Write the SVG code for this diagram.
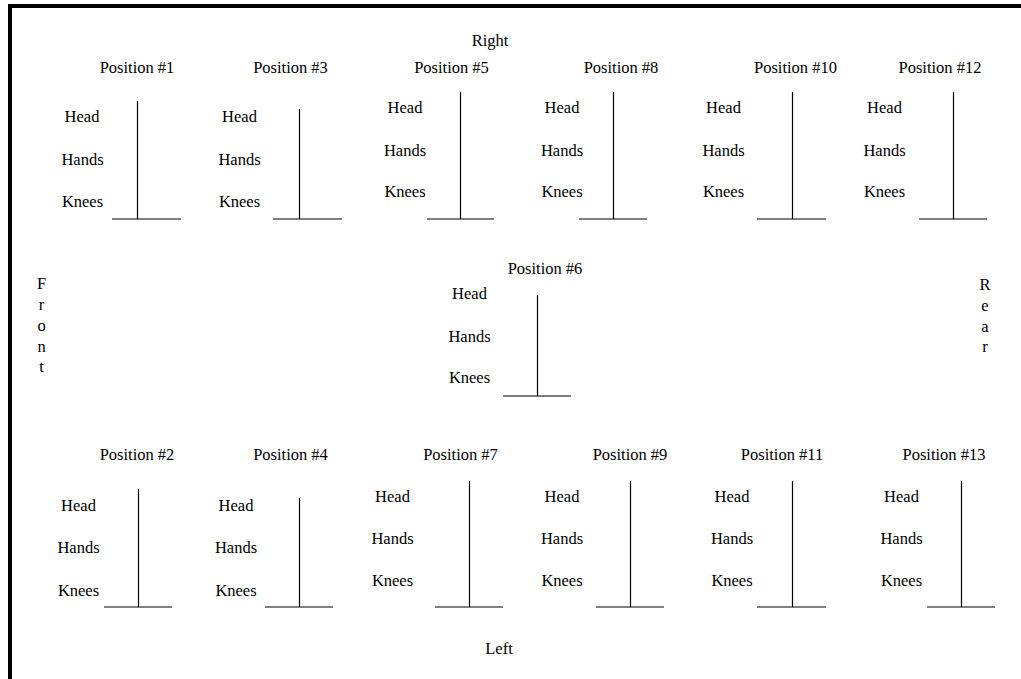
<svg xmlns="http://www.w3.org/2000/svg" width="1021" height="679" viewBox="0 0 1021 679">
<style>
text{font-family:"Liberation Serif","Times New Roman",serif;font-size:16.5px;fill:#000;text-anchor:middle}
.ln line{stroke:#000;stroke-width:1.2}
</style>
<rect x="0" y="0" width="1021" height="679" fill="#fff"/>
<g id="border">
<rect x="8" y="4" width="1013" height="4" fill="#000"/>
<rect x="8" y="4" width="4" height="675" fill="#000"/>
</g>
<g id="sides">
<text x="490" y="46">Right</text>
<text x="499" y="654">Left</text>
<text x="41.5" y="289">F</text><text x="41.5" y="310">r</text><text x="41.5" y="331">o</text><text x="41.5" y="352">n</text><text x="41.5" y="372">t</text>
<text x="985" y="290">R</text><text x="985" y="311">e</text><text x="985" y="332">a</text><text x="985" y="352">r</text>
</g>
<g id="connectors" class="ln">
<line x1="137.5" y1="101" x2="137.5" y2="219"/><line x1="112" y1="219" x2="181" y2="219"/>
<line x1="299.5" y1="109" x2="299.5" y2="219"/><line x1="273" y1="219" x2="342" y2="219"/>
<line x1="460.5" y1="92" x2="460.5" y2="219"/><line x1="427" y1="219" x2="494" y2="219"/>
<line x1="613.5" y1="92" x2="613.5" y2="219"/><line x1="579" y1="219" x2="647" y2="219"/>
<line x1="792.5" y1="92" x2="792.5" y2="219"/><line x1="757" y1="219" x2="826" y2="219"/>
<line x1="953.5" y1="92" x2="953.5" y2="219"/><line x1="919" y1="219" x2="987" y2="219"/>
<line x1="537.5" y1="295" x2="537.5" y2="396"/><line x1="503" y1="396" x2="571" y2="396"/>
<line x1="138.5" y1="489" x2="138.5" y2="607"/><line x1="104" y1="607" x2="172" y2="607"/>
<line x1="299.5" y1="498" x2="299.5" y2="607"/><line x1="265" y1="607" x2="333" y2="607"/>
<line x1="469.5" y1="481" x2="469.5" y2="607"/><line x1="435" y1="607" x2="503" y2="607"/>
<line x1="630.5" y1="481" x2="630.5" y2="607"/><line x1="596" y1="607" x2="664" y2="607"/>
<line x1="792.5" y1="481" x2="792.5" y2="607"/><line x1="757" y1="607" x2="826" y2="607"/>
<line x1="961.5" y1="481" x2="961.5" y2="607"/><line x1="927" y1="607" x2="995" y2="607"/>
</g>
<g id="pos1"><text x="137" y="73">Position #1</text><text x="82" y="122">Head</text><text x="82.5" y="165">Hands</text><text x="82.5" y="207">Knees</text></g>
<g id="pos3"><text x="290.5" y="73">Position #3</text><text x="239.5" y="122">Head</text><text x="239.5" y="165">Hands</text><text x="239.5" y="207">Knees</text></g>
<g id="pos5"><text x="451.5" y="73">Position #5</text><text x="405" y="113">Head</text><text x="405" y="156">Hands</text><text x="405" y="197">Knees</text></g>
<g id="pos8"><text x="621" y="73">Position #8</text><text x="562" y="113">Head</text><text x="562" y="156">Hands</text><text x="562" y="197">Knees</text></g>
<g id="pos10"><text x="795.5" y="73">Position #10</text><text x="723.5" y="113">Head</text><text x="723.5" y="156">Hands</text><text x="723.5" y="197">Knees</text></g>
<g id="pos12"><text x="940" y="73">Position #12</text><text x="884.5" y="113">Head</text><text x="884.5" y="156">Hands</text><text x="884.5" y="197">Knees</text></g>
<g id="pos6"><text x="545" y="274">Position #6</text><text x="469.5" y="299">Head</text><text x="469.5" y="342">Hands</text><text x="469.5" y="383">Knees</text></g>
<g id="pos2"><text x="137" y="460">Position #2</text><text x="78.5" y="511">Head</text><text x="78.5" y="553">Hands</text><text x="78.5" y="596">Knees</text></g>
<g id="pos4"><text x="290.5" y="460">Position #4</text><text x="236" y="511">Head</text><text x="236" y="553">Hands</text><text x="236" y="596">Knees</text></g>
<g id="pos7"><text x="460.5" y="460">Position #7</text><text x="392.5" y="502">Head</text><text x="392.5" y="544">Hands</text><text x="392.5" y="586">Knees</text></g>
<g id="pos9"><text x="630" y="460">Position #9</text><text x="562" y="502">Head</text><text x="562" y="544">Hands</text><text x="562" y="586">Knees</text></g>
<g id="pos11"><text x="782" y="460">Position #11</text><text x="732" y="502">Head</text><text x="732" y="544">Hands</text><text x="732" y="586">Knees</text></g>
<g id="pos13"><text x="944" y="460">Position #13</text><text x="901.5" y="502">Head</text><text x="901.5" y="544">Hands</text><text x="901.5" y="586">Knees</text></g>
</svg>
